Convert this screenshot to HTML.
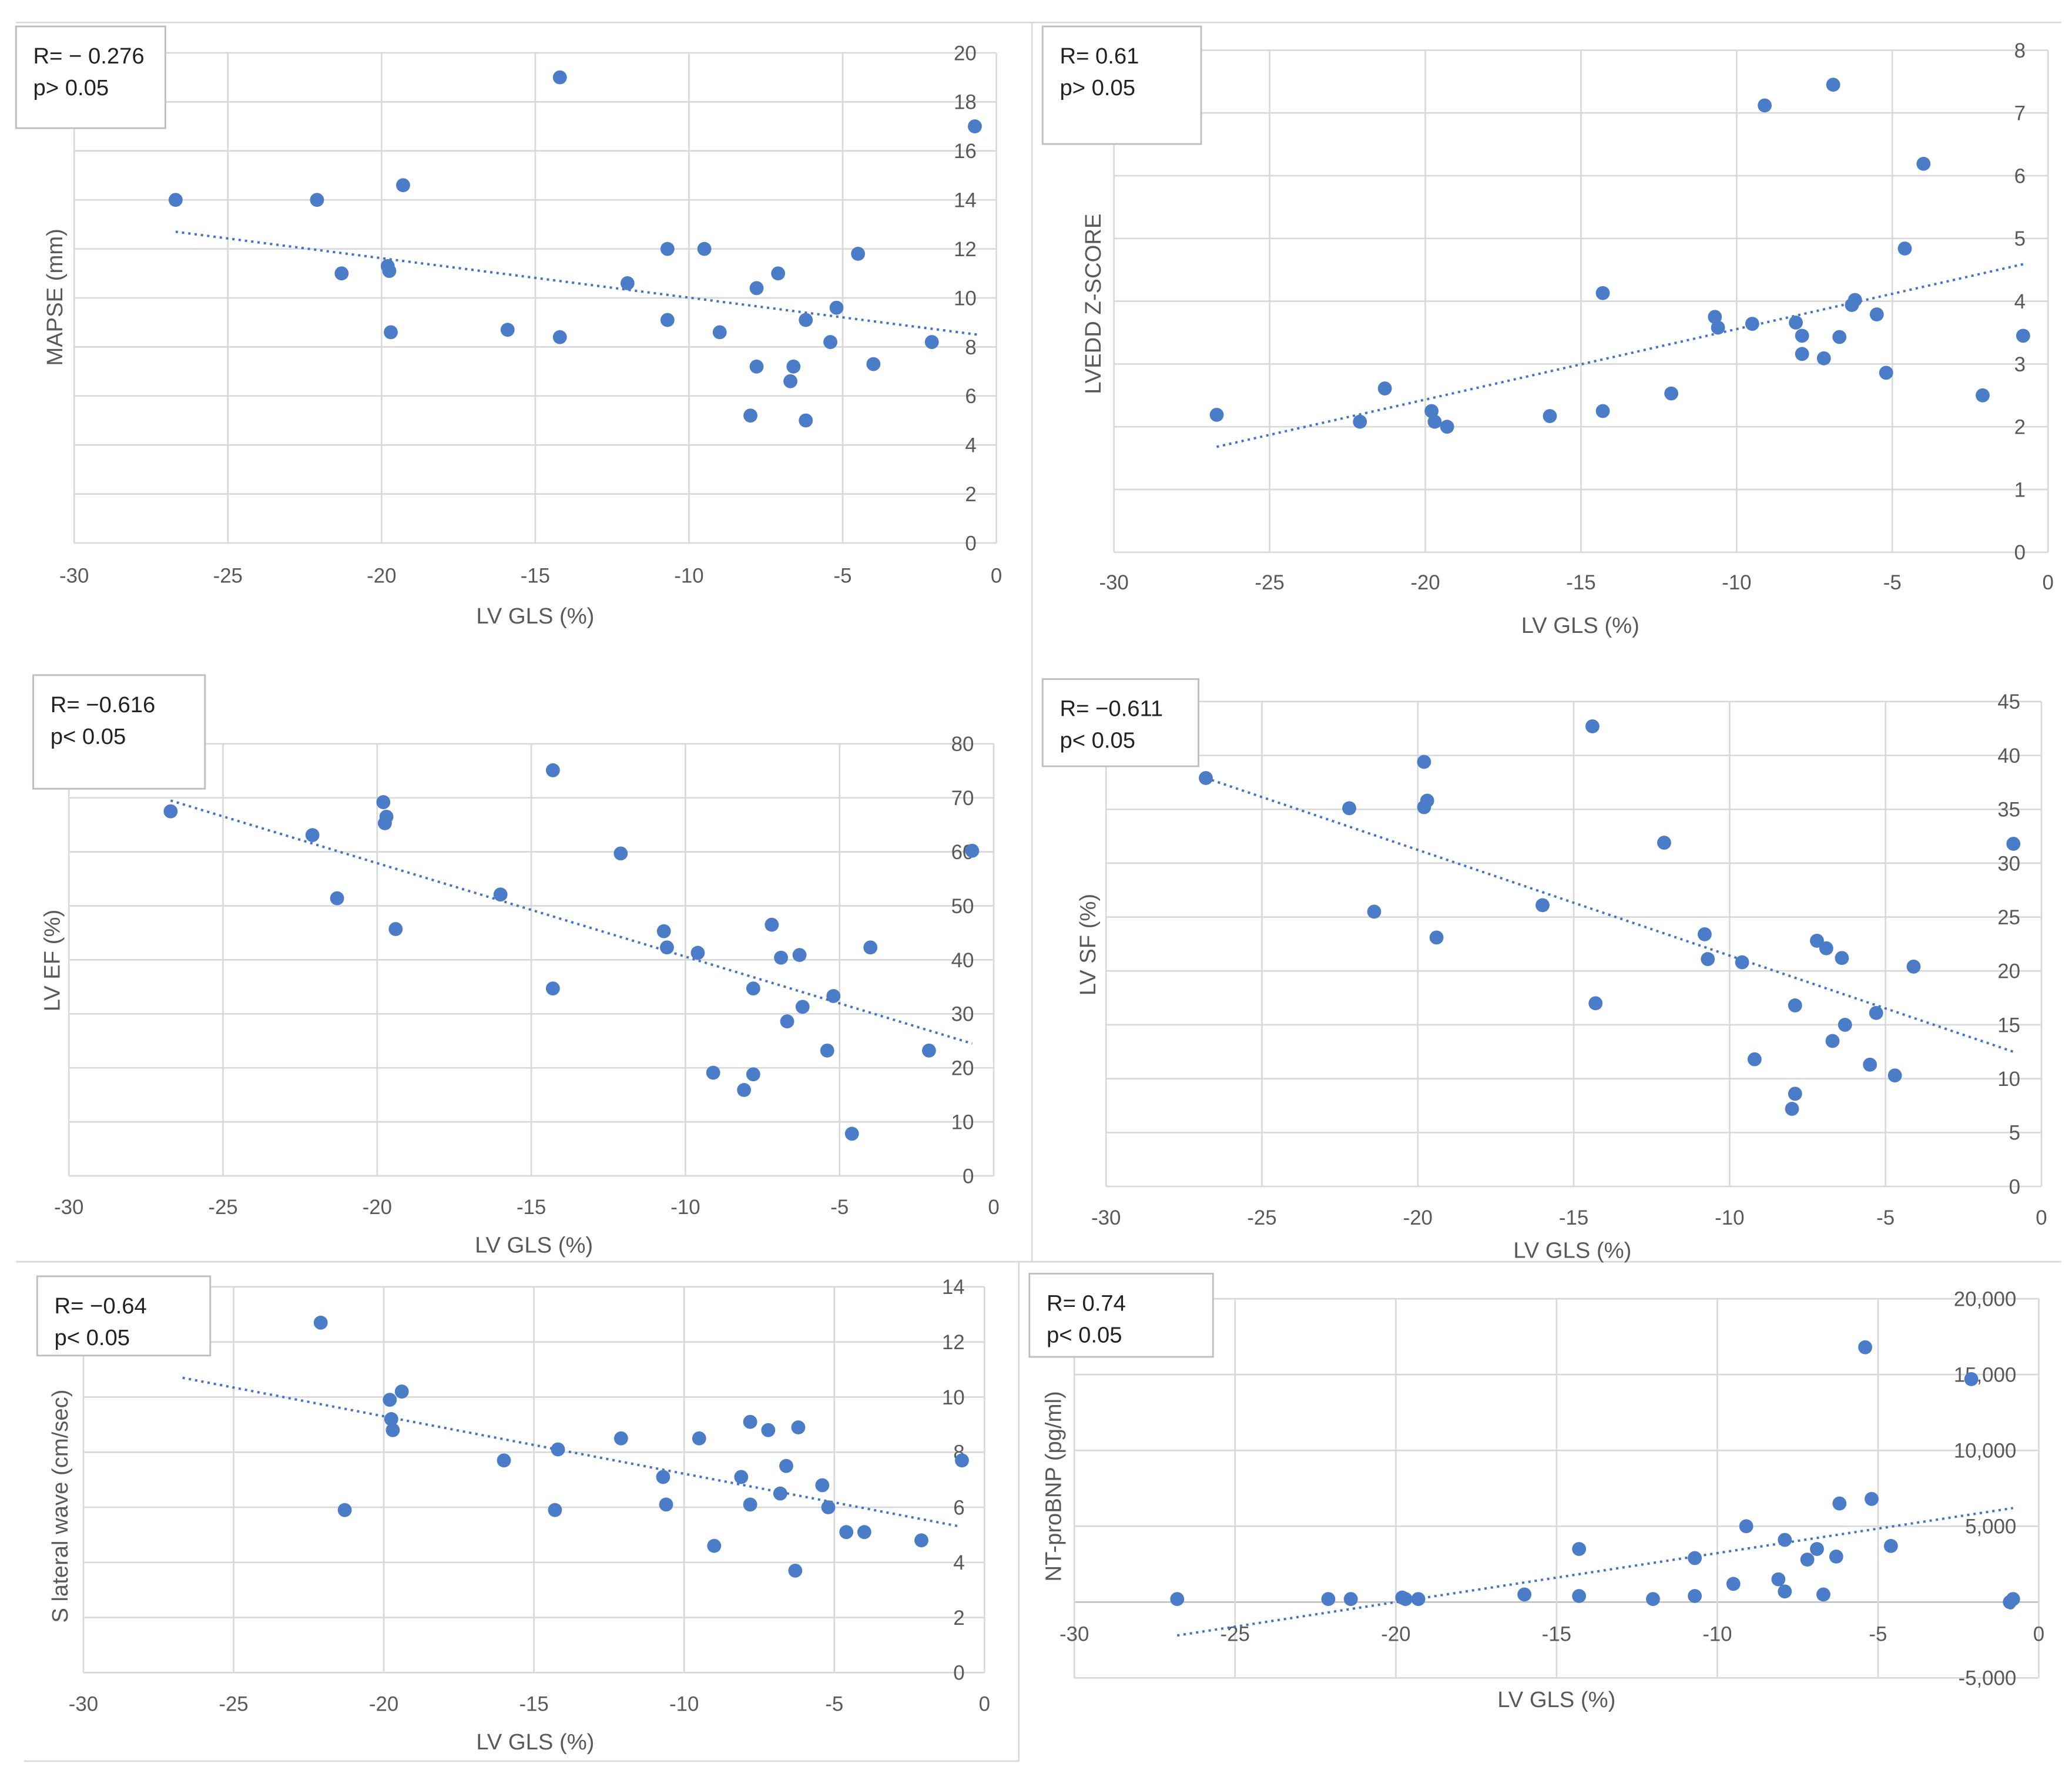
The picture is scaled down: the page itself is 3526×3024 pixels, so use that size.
<!DOCTYPE html>
<html><head><meta charset="utf-8">
<style>
html,body{margin:0;padding:0;background:#fff;}
svg{display:block;}
text{font-family:"Liberation Sans",Arial,sans-serif;fill:#595959;}
</style></head>
<body>
<svg id="chart" width="3526" height="3024" viewBox="0 0 1568 1345" xmlns="http://www.w3.org/2000/svg">
<rect x="0" y="0" width="1568" height="1345" fill="#ffffff"/>
<g stroke="#d9d9d9" stroke-width="1.2" fill="none">
<line x1="12" y1="17" x2="1560" y2="17"/>
<line x1="781" y1="17" x2="781" y2="955"/>
<line x1="12" y1="955" x2="1560" y2="955"/>
<line x1="771" y1="955" x2="771" y2="1333"/>
<line x1="18" y1="1333" x2="771" y2="1333"/>
</g>
</svg>
<script>
// ---- data (x = LV GLS %, y = outcome) ----
const glsTicks = [-30,-25,-20,-15,-10,-5,0];

const p1x = [-26.7,-22.1,-21.3,-19.3,-19.8,-19.75,-19.7,-15.9,-14.2,-14.2,-12.0,-10.7,-10.7,-9.5,-9.0,-7.8,-7.8,-8.0,-7.1,-6.6,-6.7,-6.2,-6.2,-5.2,-5.4,-4.5,-4.0,-2.1,-0.7];
const p1y = [14.0,14.0,11.0,14.6,11.3,11.1,8.6,8.7,19.0,8.4,10.6,12.0,9.1,12.0,8.6,10.4,7.2,5.2,11.0,7.2,6.6,9.1,5.0,9.6,8.2,11.8,7.3,8.2,17.0];
const p1trend = [-26.7,12.7,-0.6,8.5];
const p1yTicks = [0,2,4,6,8,10,12,14,16,18,20];

const p2x = [-26.7,-22.1,-21.3,-19.8,-19.7,-19.3,-16.0,-14.3,-14.3,-12.1,-10.7,-10.6,-9.5,-9.1,-8.1,-7.9,-7.9,-7.2,-6.9,-6.7,-6.3,-6.2,-5.5,-5.2,-4.6,-4.0,-2.1,-0.8];
const p2y = [2.19,2.08,2.61,2.25,2.08,2.0,2.17,2.25,4.13,2.53,3.75,3.58,3.64,7.12,3.66,3.45,3.16,3.09,7.45,3.43,3.94,4.02,3.79,2.86,4.84,6.19,2.5,3.45];
const p2trend = [-26.7,1.68,-0.8,4.59];
const p2yTicks = [0,1,2,3,4,5,6,7,8];

const p3x = [-26.7,-22.1,-21.3,-19.8,-19.7,-19.75,-19.4,-16.0,-14.3,-14.3,-12.1,-10.7,-10.6,-9.6,-9.1,-7.2,-7.8,-8.1,-7.8,-6.9,-6.3,-6.7,-6.2,-5.2,-5.4,-4.6,-4.0,-2.1,-0.7];
const p3y = [67.5,63.1,51.4,69.2,66.5,65.3,45.7,52.1,75.1,34.7,59.7,45.3,42.3,41.3,19.1,46.5,34.7,15.9,18.8,40.4,40.9,28.6,31.3,33.3,23.2,7.8,42.3,23.2,60.2];
const p3trend = [-26.7,69.5,-0.7,24.5];
const p3yTicks = [0,10,20,30,40,50,60,70,80];

const p4x = [-26.8,-22.2,-21.4,-19.8,-19.7,-19.8,-19.4,-16.0,-14.4,-14.3,-12.1,-10.8,-10.7,-9.6,-9.2,-7.9,-8.0,-7.9,-7.2,-6.9,-6.7,-6.4,-6.3,-5.5,-5.3,-4.7,-4.1,-0.9];
const p4y = [37.9,35.1,25.5,39.4,35.8,35.2,23.1,26.1,42.7,17.0,31.9,23.4,21.1,20.8,11.8,8.6,7.2,16.8,22.8,22.1,13.5,21.2,15.0,11.3,16.1,10.3,20.4,31.8];
const p4trend = [-26.8,37.9,-0.8,12.4];
const p4yTicks = [0,5,10,15,20,25,30,35,40,45];

const p5x = [-22.1,-21.3,-19.8,-19.75,-19.7,-19.4,-16.0,-14.2,-14.3,-12.1,-10.7,-10.6,-9.5,-9.0,-7.8,-8.1,-7.8,-7.2,-6.6,-6.8,-6.2,-6.3,-5.4,-5.2,-4.6,-4.0,-2.1,-0.75];
const p5y = [12.7,5.9,9.9,9.2,8.8,10.2,7.7,8.1,5.9,8.5,7.1,6.1,8.5,4.6,9.1,7.1,6.1,8.8,7.5,6.5,8.9,3.7,6.8,6.0,5.1,5.1,4.8,7.7];
const p5trend = [-26.7,10.7,-0.8,5.3];
const p5yTicks = [0,2,4,6,8,10,12,14];

const p6x = [-26.8,-22.1,-21.4,-19.8,-19.7,-19.3,-16.0,-14.3,-14.3,-12.0,-10.7,-10.7,-9.5,-9.1,-8.1,-7.9,-7.9,-7.2,-6.9,-6.7,-6.3,-6.2,-5.4,-5.2,-4.6,-2.1,-0.9,-0.8];
const p6y = [200,200,200,300,200,200,500,3500,400,200,2900,400,1200,5000,1500,4100,700,2800,3500,500,3000,6500,16800,6800,3700,14700,0,200];
const p6trend = [-26.8,-2200,-0.8,6200];
const p6yTicks = [-5000,0,5000,10000,15000,20000];

// ---- layout ----
const panels = [
 {id:'mapse', xs:p1x, ys:p1y, tr:p1trend, yt:p1yTicks, L:56,R:754,T:40,B:411, ymin:0,ymax:20, xTickY:441, xl:[405,472], yl:[47,225], ytitle:'MAPSE (mm)', box:[12,20,113,77], r:'R= \u2212 0.276', p:'p> 0.05', lblR:739, comma:false},
 {id:'lvedd', xs:p2x, ys:p2y, tr:p2trend, yt:p2yTicks, L:843,R:1550,T:38,B:418, ymin:0,ymax:8, xTickY:446, xl:[1196,479], yl:[833,230], ytitle:'LVEDD Z-SCORE', box:[789,20,120,89], r:'R= 0.61', p:'p> 0.05', lblR:1533, comma:false},
 {id:'lvef', xs:p3x, ys:p3y, tr:p3trend, yt:p3yTicks, L:52,R:752,T:563,B:890, ymin:0,ymax:80, xTickY:919, xl:[404,948], yl:[45,727], ytitle:'LV EF (%)', box:[25,511,130,86], r:'R= \u22120.616', p:'p< 0.05', lblR:737, comma:false},
 {id:'lvsf', xs:p4x, ys:p4y, tr:p4trend, yt:p4yTicks, L:837,R:1545,T:531,B:898, ymin:0,ymax:45, xTickY:927, xl:[1190,952], yl:[829,715], ytitle:'LV SF (%)', box:[789,514,118,66], r:'R= \u22120.611', p:'p< 0.05', lblR:1529, comma:false},
 {id:'s-lateral', xs:p5x, ys:p5y, tr:p5trend, yt:p5yTicks, L:63,R:745,T:974,B:1266, ymin:0,ymax:14, xTickY:1295, xl:[405,1324], yl:[51,1140], ytitle:'S lateral wave (cm/sec)', box:[28,966,131,60], r:'R= \u22120.64', p:'p< 0.05', lblR:730, comma:false},
 {id:'ntprobnp', xs:p6x, ys:p6y, tr:p6trend, yt:p6yTicks, L:813,R:1543,T:983,B:1270, ymin:-5000,ymax:20000, xTickY:1242, xl:[1178,1292], yl:[803,1125], ytitle:'NT-proBNP (pg/ml)', box:[779,964,139,63], r:'R= 0.74', p:'p< 0.05', lblR:1526, comma:true}
];

const NS='http://www.w3.org/2000/svg';
const svg=document.getElementById('chart');
function mk(tag,attrs,parent){const e=document.createElementNS(NS,tag);for(const k in attrs)e.setAttribute(k,attrs[k]);(parent||svg).appendChild(e);return e;}
function fmt(v,c){if(!c)return String(v);const s=Math.abs(v).toLocaleString('en-US');return (v<0?'-':'')+s;}

panels.forEach(P=>{
  const g=mk('g',{});
  
  
  const sx=v=>P.L+(v+30)/30*(P.R-P.L);
  const sy=v=>P.B-(v-P.ymin)/(P.ymax-P.ymin)*(P.B-P.T);
  // grid
  P.yt.forEach(t=>{
    const ln=mk('line',{x1:P.L,x2:P.R,y1:sy(t),y2:sy(t),stroke:(P.comma&&t===0)?'#bfbfbf':'#d9d9d9','stroke-width':1.2},g);
    
    
    const tx=mk('text',{x:P.lblR,y:sy(t)+5.5,'text-anchor':'end','font-size':15.5},g);
    tx.textContent=fmt(t,P.comma);
    
    
  });
  glsTicks.forEach(t=>{
    const ln=mk('line',{x1:sx(t),x2:sx(t),y1:P.T,y2:P.B,stroke:'#d9d9d9','stroke-width':1.2},g);
    
    
    const tx=mk('text',{x:sx(t),y:P.xTickY,'text-anchor':'middle','font-size':15.5},g);
    tx.textContent=String(t);
    
    
  });
  // trendline
  const tl=mk('line',{x1:sx(P.tr[0]),y1:sy(P.tr[1]),x2:sx(P.tr[2]),y2:sy(P.tr[3]),stroke:'#4472c4','stroke-width':1.8,'stroke-dasharray':'1.8,3'},g);
  
  
  // points
  P.xs.forEach((x,i)=>{
    const c=mk('circle',{cx:sx(x),cy:sy(P.ys[i]),r:5.3,fill:'#4a7cc8'},g);
    
    
  });
  // axis titles
  const xt=mk('text',{x:P.xl[0],y:P.xl[1],'text-anchor':'middle','font-size':17},g);
  xt.textContent='LV GLS (%)';
  
  
  const yt=mk('text',{x:P.yl[0],y:P.yl[1],'text-anchor':'middle','font-size':17,transform:`rotate(-90 ${P.yl[0]} ${P.yl[1]})`},g);
  yt.textContent=P.ytitle;
  
  
  // stats box
  const bx=mk('rect',{x:P.box[0],y:P.box[1],width:P.box[2],height:P.box[3],fill:'#ffffff',stroke:'#bfbfbf','stroke-width':1.3},g);
  
  
  const r1=mk('text',{x:P.box[0]+13,y:P.box[1]+28,'font-size':17,style:'fill:#222'},g);
  r1.textContent=P.r;
  
  
  const r2=mk('text',{x:P.box[0]+13,y:P.box[1]+52,'font-size':17,style:'fill:#222'},g);
  r2.textContent=P.p;
  
  
});
</script>
</body></html>
